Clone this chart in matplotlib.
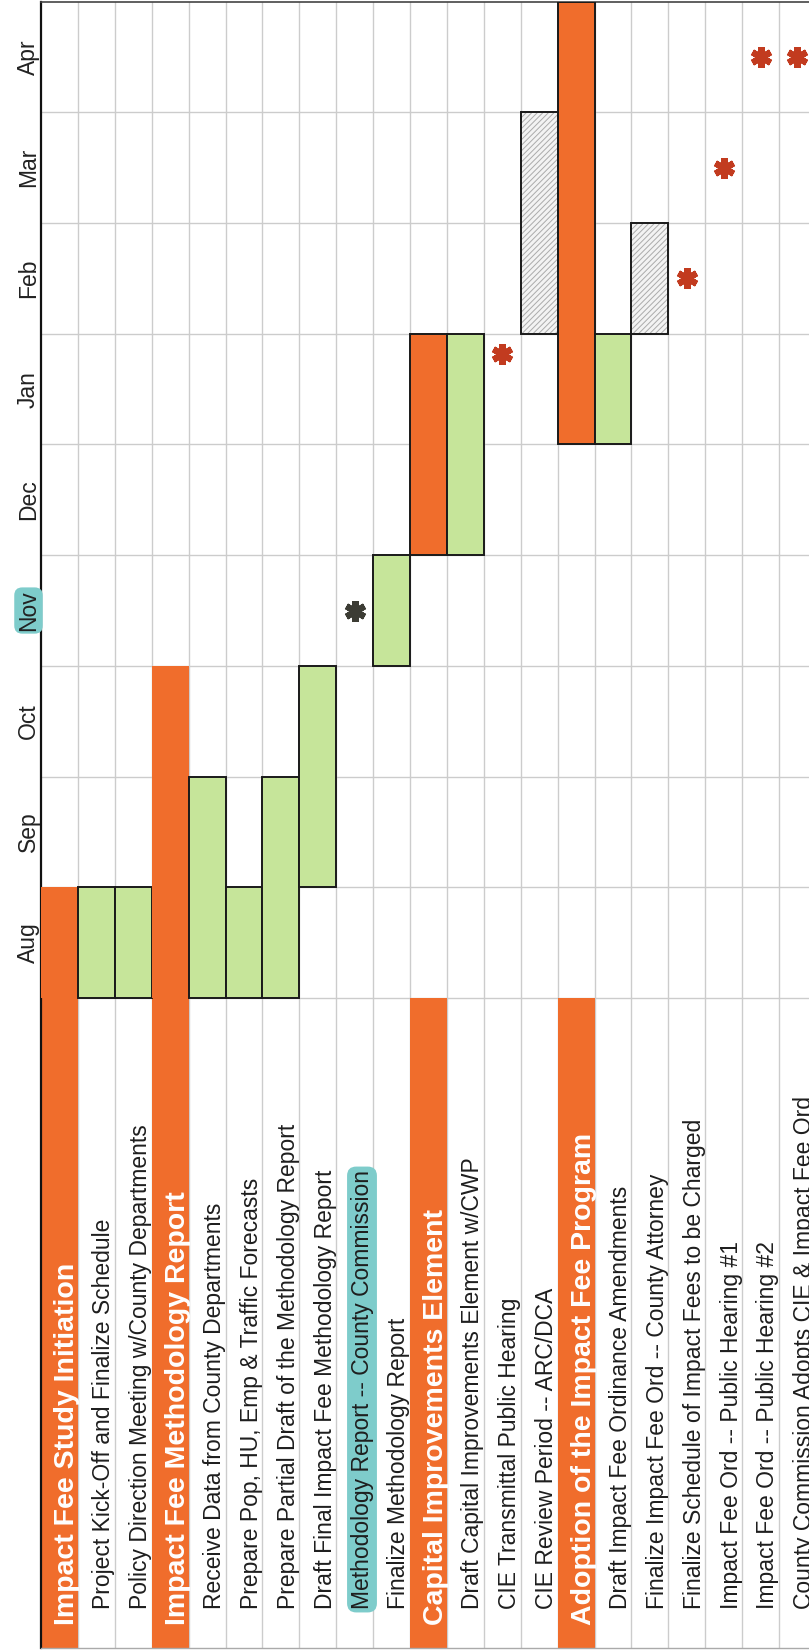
import matplotlib
matplotlib.use("Agg")
import matplotlib.pyplot as plt
from matplotlib import font_manager
from matplotlib.patches import Rectangle

# ---- data ----
months = ["Aug", "Sep", "Oct", "Nov", "Dec", "Jan", "Feb", "Mar", "Apr"]
highlight_month = "Nov"

tasks = [
    "Impact Fee Study Initiation",
    "Project Kick-Off and Finalize Schedule",
    "Policy Direction Meeting w/County Departments",
    "Impact Fee Methodology Report",
    "Receive Data from County Departments",
    "Prepare Pop, HU, Emp & Traffic Forecasts",
    "Prepare Partial Draft of the Methodology Report",
    "Draft Final Impact Fee Methodology Report",
    "Methodology Report -- County Commission",
    "Finalize Methodology Report",
    "Capital Improvements Element",
    "Draft Capital Improvements Element w/CWP",
    "CIE Transmittal Public Hearing",
    "CIE Review Period -- ARC/DCA",
    "Adoption of the Impact Fee Program",
    "Draft Impact Fee Ordinance Amendments",
    "Finalize Impact Fee Ord -- County Attorney",
    "Finalize Schedule of Impact Fees to be Charged",
    "Impact Fee Ord -- Public Hearing #1",
    "Impact Fee Ord -- Public Hearing #2",
    "County Commission Adopts CIE & Impact Fee Ord",
]
# row kind: phase header, task bar, review period, milestone
kinds = ["phase", "task", "task", "phase", "task", "task", "task", "task",
         "milestone", "task", "phase", "task", "milestone", "review", "phase",
         "task", "review", "milestone", "milestone", "milestone", "milestone"]
# bar start / end in months from start of Aug (None for milestones)
bar_start = [0, 0, 0, 0, 0, 0, 0, 1, None, 3, 4, 4, None, 6, 5, 5, 6,
             None, None, None, None]
bar_end = [1, 1, 1, 3, 2, 1, 2, 3, None, 4, 6, 6, None, 8, 9, 6, 7,
           None, None, None, None]
# milestone dates in months from start of Aug
milestone_at = [None, None, None, None, None, None, None, None, 3.5, None,
                None, None, 5.82, None, None, None, None, 6.5, 7.5, 8.5, 8.5]
highlight_rows = [8]

# ---- styling ----
ORANGE = "#F06D2C"
GREEN = "#C6E59A"
TEAL = "#7ECCCB"
STAR = "#C23B1F"
GRID = "#cccccc"

plt.rcParams["hatch.linewidth"] = 0.7

try:
    font_manager.findfont("Liberation Sans Narrow", fallback_to_default=False)
    narrow = ["Liberation Sans Narrow", "DejaVu Sans"]
    lab_size = 20
except ValueError:
    narrow = ["Liberation Sans", "DejaVu Sans"]
    lab_size = 16.5

W, H = 809, 1650
row_px = 36.9
month_px = 110.75
left_px = 41
label_px = 1648 - 998          # height of the task-name strip

fig = plt.figure(figsize=(W / 100, H / 100), dpi=100)
ax = fig.add_axes([left_px / W, 2 / H, 1 - left_px / W, 1 - 3.5 / H])
xmax = (W - left_px) / row_px
ymin = -label_px / month_px
ax.set_xlim(0, xmax)
ax.set_ylim(ymin, len(months))
ax.set_xticks([])
ax.set_yticks([])
ax.spines["right"].set_visible(False)
ax.spines["left"].set_linewidth(1.6)
ax.spines["left"].set_color("#111111")
ax.spines["top"].set_linewidth(1.2)
ax.spines["top"].set_color("#444444")
ax.spines["bottom"].set_linewidth(1.0)
ax.spines["bottom"].set_color("#aaaaaa")

n = len(tasks)
# grid
for i in range(1, n + 1):
    ax.plot([i, i], [ymin, len(months)], color=GRID, lw=1.0, zorder=1)
for m in range(len(months)):
    ax.plot([0, xmax], [m, m], color=GRID, lw=1.0, zorder=1)

# month labels
for m, name in enumerate(months):
    bbox = None
    if name == highlight_month:
        bbox = dict(boxstyle="round,pad=0.12,rounding_size=0.35", fc=TEAL, ec="none")
    ax.text(-6 / row_px, m + 0.5, name, rotation=90, rotation_mode="anchor",
            ha="center", va="baseline", fontsize=lab_size, family=narrow,
            color="#222222", bbox=bbox, clip_on=False, zorder=5)

# rows
for i, (name, kind) in enumerate(zip(tasks, kinds)):
    if kind == "phase":
        ax.add_patch(Rectangle((i, ymin), 1, -ymin, fc=ORANGE, ec="none", zorder=2))
        ax.text(i + 1 - 4 / row_px, ymin + (1648 - 1625) / month_px, name,
                rotation=90, rotation_mode="anchor", ha="left", va="baseline",
                fontsize=20.5, fontweight="bold", family=["Liberation Sans", "DejaVu Sans"],
                color="white", zorder=5)
        s, e = bar_start[i], bar_end[i]
        edge = "none" if s == 0 else "#1a1a1a"
        ax.add_patch(Rectangle((i, s), 1, e - s, fc=ORANGE, ec=edge, lw=1.4, zorder=3))
    else:
        bbox = None
        if i in highlight_rows:
            bbox = dict(boxstyle="round,pad=0.15,rounding_size=0.4", fc=TEAL, ec="none")
        ax.text(i + 1 - 4.6 / row_px, ymin + (1648 - 1609) / month_px, name,
                rotation=90, rotation_mode="anchor", ha="left", va="baseline",
                fontsize=lab_size, family=narrow, color="#1e1e1e", bbox=bbox,
                zorder=5)
        if kind == "task":
            s, e = bar_start[i], bar_end[i]
            ax.add_patch(Rectangle((i, s), 1, e - s, fc=GREEN, ec="#1a1a1a", lw=1.4, zorder=3))
        elif kind == "review":
            s, e = bar_start[i], bar_end[i]
            ax.add_patch(Rectangle((i, s), 1, e - s, fc="#f3f3f3", ec="#ababab", lw=0,
                                   hatch="//////", zorder=3))
            ax.add_patch(Rectangle((i, s), 1, e - s, fill=False, ec="#1a1a1a", lw=1.4, zorder=4))
        elif kind == "milestone":
            col = "#3c3c34" if i in highlight_rows else STAR
            ax.plot(i + 0.5, milestone_at[i], marker=(6, 2, 0), ms=15, mew=4.5,
                    color=col, zorder=5)

fig.savefig("out.png", dpi=100)
